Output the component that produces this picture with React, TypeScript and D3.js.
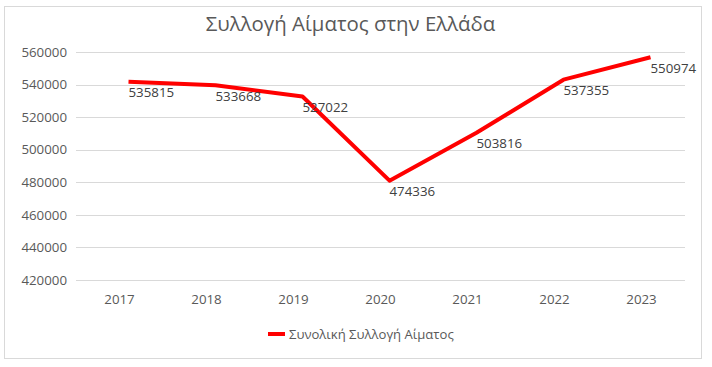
import React from 'react';
import * as d3 from 'd3';

const years = ['2017', '2018', '2019', '2020', '2021', '2022', '2023'];
const values = [541800, 539600, 532700, 481000, 510400, 543000, 556800];
const labels = ['535815', '533668', '527022', '474336', '503816', '537355', '550974'];
const yTicks = [420000, 440000, 460000, 480000, 500000, 520000, 540000, 560000];
const title = 'Συλλογή Αίματος στην Ελλάδα';
const seriesName = 'Συνολική Συλλογή Αίματος';

const W = 712, H = 367;
const FONT = "'Open Sans', sans-serif";

export default function App() {
  const x = d3.scaleBand<string>().domain(years).range([76, 685]);
  const y = d3.scaleLinear().domain([420000, 560000]).range([280, 52]);
  const shift = 9;
  const px = (i: number) => (x(years[i]) as number) + x.bandwidth() / 2 + shift;
  const line = d3.line<number>().x((_, i) => px(i)).y(d => y(d));
  return (
    <div style={{ position: 'fixed', left: 0, top: 0 }}>
      <svg width={W} height={H} style={{ display: 'block', background: '#fff' }}>
        <rect x={4.5} y={6.5} width={697} height={352} fill="#fff" stroke="#d9d9d9" />
        <text x={350.5} y={31} textAnchor="middle" fontFamily={FONT} fontSize={20.4} fill="#595959">{title}</text>
        {yTicks.map(t => (
          <g key={t}>
            <line x1={76} x2={685} y1={Math.round(y(t)) + 0.5} y2={Math.round(y(t)) + 0.5} stroke="#d9d9d9" strokeWidth={1} />
            <text x={67} y={y(t)} dy="0.35em" textAnchor="end" fontFamily={FONT} fontSize={13.3} fill="#595959">{t}</text>
          </g>
        ))}
        {years.map(yr => (
          <text key={yr} x={(x(yr) as number) + x.bandwidth() / 2} y={299} dy="0.35em" textAnchor="middle" fontFamily={FONT} fontSize={13.3} fill="#595959">{yr}</text>
        ))}
        <path d={line(values) || ''} fill="none" stroke="#ff0000" strokeWidth={4} strokeLinejoin="round" />
        {values.map((v, i) => (
          <text key={i} x={px(i)} y={y(v) + 11} dy="0.35em" fontFamily={FONT} fontSize={13.3} fill="#404040">{labels[i]}</text>
        ))}
        <line x1={268} x2={285} y1={334} y2={334} stroke="#ff0000" strokeWidth={4} />
        <text x={289} y={334} dy="0.35em" fontFamily={FONT} fontSize={13.1} fill="#595959">{seriesName}</text>
      </svg>
    </div>
  );
}
